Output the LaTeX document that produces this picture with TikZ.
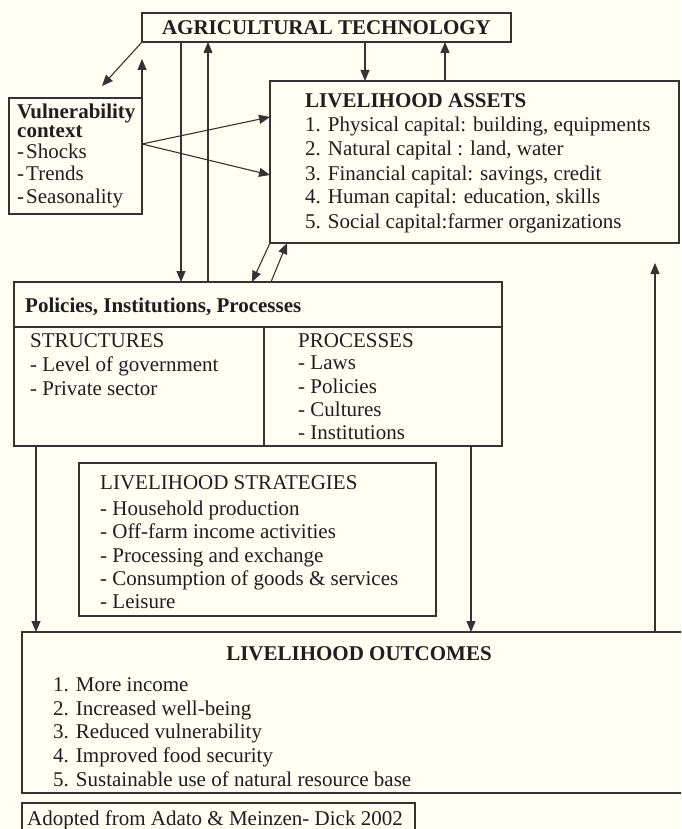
\documentclass[tikz,border=0pt]{standalone}
\usepackage{fontspec}
\setmainfont{Liberation Serif}
\usetikzlibrary{arrows.meta}
\definecolor{bg}{HTML}{FEFEF3}
\definecolor{ink}{HTML}{1E1E1E}
\definecolor{lnc}{HTML}{333333}
\begin{document}
\begin{tikzpicture}[x=1pt,y=-1pt,
 box/.style={draw=lnc, line width=1.1pt, inner sep=0pt, outer sep=0pt, anchor=north west},
 txt/.style={text=ink, inner sep=0pt, anchor=base west, font=\fontsize{21}{23.5}\selectfont},
 btxt/.style={txt, font=\fontsize{21}{23.5}\selectfont\bfseries},
 arr/.style={draw=lnc, line width=1.1pt, -{Triangle[length=11pt,width=9pt]}},
]
\fill[bg] (0,0) rectangle (681,829);
\useasboundingbox (0,0) rectangle (681,829);
\clip (0,0) rectangle (681,829);

% boxes
\node[box, minimum width=369pt, minimum height=29pt] (agt) at (142,13) {};
\node[box, minimum width=133pt, minimum height=116pt] (vul) at (9,98) {};
\node[box, minimum width=409pt, minimum height=162pt] (la) at (270,81) {};
\node[box, minimum width=488pt, minimum height=45pt] (piph) at (14,282) {};
\node[box, minimum width=250pt, minimum height=119pt] (pips) at (14,327) {};
\node[box, minimum width=238pt, minimum height=119pt] (pipp) at (264,327) {};
\node[box, minimum width=357pt, minimum height=153pt] (ls) at (79,463) {};
\node[box, minimum width=680pt, minimum height=161pt] (out) at (22,632) {};
\node[box, minimum width=393pt, minimum height=40pt] (adp) at (22,803) {};

% texts
\node[btxt, anchor=base] (agtt) at (326.5,34.5) {AGRICULTURAL TECHNOLOGY};

\node[btxt] (v1) at (17,118.5) {Vulnerability};
\node[btxt] (v2) at (17,137.5) {context};
\node[txt] (v3) at (17,159) {-\kern2pt Shocks};
\node[txt] (v4) at (17,181) {-\kern2pt Trends};
\node[txt] (v5) at (17,203) {-\kern2pt Seasonality};

\node[btxt] (la0) at (305,108) {LIVELIHOOD ASSETS};
\node[txt] (la1) at (305,132) {1. Physical capital: building, equipments};
\node[txt] (la2) at (305,156) {2. Natural capital : land, water};
\node[txt] (la3) at (305,180) {3. Financial capital: savings, credit};
\node[txt] (la4) at (305,204) {4. Human capital: education, skills};
\node[txt] (la5) at (305,228) {5. Social capital:farmer organizations};

\node[btxt] (p0) at (25,312) {Policies, Institutions, Processes};
\node[txt] (s0) at (30,347) {STRUCTURES};
\node[txt] (s1) at (30,371) {- Level of government};
\node[txt] (s2) at (30,395) {- Private sector};
\node[txt] (r0) at (298,347) {PROCESSES};
\node[txt] (r1) at (298,369) {- Laws};
\node[txt] (r2) at (298,393) {- Policies};
\node[txt] (r3) at (298,416) {- Cultures};
\node[txt] (r4) at (298,439) {- Institutions};

\node[txt] (l0) at (100,489) {LIVELIHOOD STRATEGIES};
\node[txt] (l1) at (100,515) {- Household production};
\node[txt] (l2) at (100,538) {- Off-farm income activities};
\node[txt] (l3) at (100,562) {- Processing and exchange};
\node[txt] (l4) at (100,585) {- Consumption of goods \& services};
\node[txt] (l5) at (100,608) {- Leisure};

\node[btxt, anchor=base] (o0) at (359,660) {LIVELIHOOD OUTCOMES};
\node[txt] (o1) at (53,691) {1. More income};
\node[txt] (o2) at (53,715) {2. Increased well-being};
\node[txt] (o3) at (53,738) {3. Reduced vulnerability};
\node[txt] (o4) at (53,762) {4. Improved food security};
\node[txt] (o5) at (53,786) {5. Sustainable use of natural resource base};

\node[txt] (a0) at (27,825) {Adopted from Adato \& Meinzen- Dick 2002};

% helper coordinates
\coordinate (t1) at (102,86);
\coordinate (t2) at (142,59);
\coordinate (t3) at (655,263);
\coordinate (vs) at (142,144);
\coordinate (ya) at (0,117);
\coordinate (yb) at (0,175);
\coordinate (x36) at (36,0);
\coordinate (x181) at (181,0);
\coordinate (x208) at (208,0);
\coordinate (x252) at (252,0);
\coordinate (x271) at (271,0);
\coordinate (x287) at (287,0);
\coordinate (x365) at (365,0);
\coordinate (x445) at (445,0);
\coordinate (x471) at (471,0);
\coordinate (x655) at (655,0);

% connectors
\draw[arr] (agt.south west) -- (t1);
\draw[arr] (vul.north east) -- (t2);
\draw[arr] (agt.south -| x181) -- (piph.north -| x181);
\draw[arr] (piph.north -| x208) -- (agt.south -| x208);
\draw[arr] (vs) -- (la.west |- ya);
\draw[arr] (vs) -- (la.west |- yb);
\draw[arr] (agt.south -| x365) -- (la.north -| x365);
\draw[arr] (la.north -| x445) -- (agt.south -| x445);
\draw[arr] (la.south west) -- (piph.north -| x252);
\draw[arr] (piph.north -| x271) -- (la.south -| x287);
\draw[arr] (pips.south -| x36) -- (out.north -| x36);
\draw[arr] (pipp.south -| x471) -- (out.north -| x471);
\draw[arr] (out.north -| x655) -- (t3);
\end{tikzpicture}
\end{document}
